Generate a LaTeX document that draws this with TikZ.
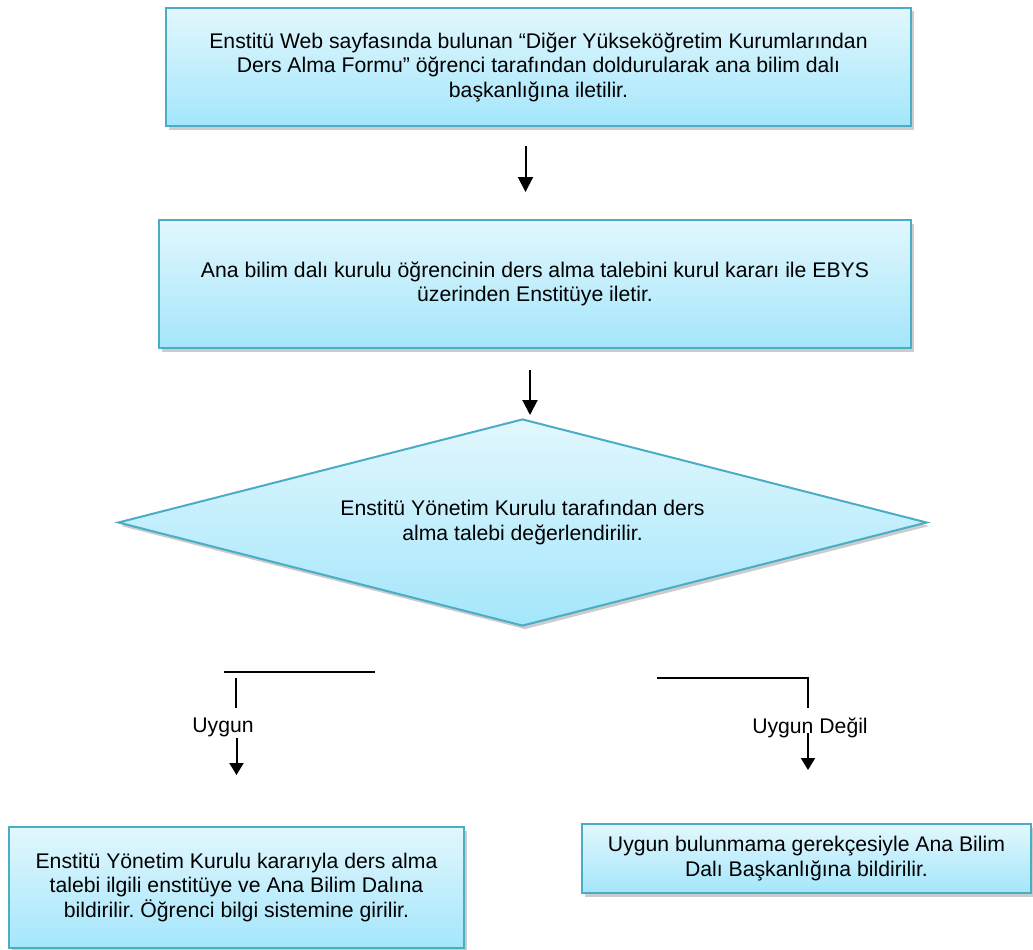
\documentclass[tikz,border=0pt]{standalone}
\usepackage{fontspec}
\setmainfont{Liberation Sans}
\usetikzlibrary{arrows.meta,shadows,shapes.geometric}
\frenchspacing
\definecolor{bord}{HTML}{4BACC6}
\definecolor{ftop}{HTML}{E2F7FD}
\definecolor{fbot}{HTML}{A4E6FB}
\tikzset{
  proc/.style={draw=bord, line width=2pt, top color=ftop, bottom color=fbot,
    align=center, font=\fontsize{21.2}{24.5}\selectfont, inner sep=0pt,
    drop shadow={shadow xshift=2.5pt, shadow yshift=-3.5pt, opacity=0.4}},
  flow/.style={line width=2pt, -{Triangle[width=15pt,length=15pt]}},
  flowsm/.style={line width=2pt, -{Triangle[width=14pt,length=12pt]}},
  plainline/.style={line width=2pt},
  lbl/.style={font=\fontsize{21.2}{24.5}\selectfont, inner sep=0pt}
}
\begin{document}
\begin{tikzpicture}[x=1pt,y=-1pt]
\useasboundingbox (0,0) rectangle (1033,950);

\node[proc, minimum width=745pt, minimum height=118pt] (b1) at (538.5,67)
  {Enstitü Web sayfasında bulunan “Diğer Yükseköğretim Kurumlarından\\
   Ders Alma Formu” öğrenci tarafından doldurularak ana bilim dalı\\
   başkanlığına iletilir.};

\node[proc, minimum width=752pt, minimum height=128pt] (b2) at (535,284)
  {Ana bilim dalı kurulu öğrencinin ders alma talebini kurul kararı ile EBYS\\
   üzerinden Enstitüye iletir.};

\node[proc, diamond, shape aspect=3.9, minimum width=809pt, minimum height=207pt] (d) at (522.5,522.5)
  {Enstitü Yönetim Kurulu tarafından ders\\ alma talebi değerlendirilir.};

\node[proc, minimum width=455pt, minimum height=121pt] (bl) at (236.5,887.5)
  {Enstitü Yönetim Kurulu kararıyla ders alma\\
   talebi ilgili enstitüye ve Ana Bilim Dalına\\
   bildirilir. Öğrenci bilgi sistemine girilir.};

\node[proc, minimum width=449pt, minimum height=69pt] (br) at (806.5,858.5)
  {Uygun bulunmama gerekçesiyle Ana Bilim\\
   Dalı Başkanlığına bildirilir.};

% arrows between boxes
\coordinate (a1s) at (525.5,146);
\coordinate (a1e) at (525.5,192);
\coordinate (a2s) at (530,370);
\coordinate (a2e) at (530,415);
\draw[flow] (a1s) -- (a1e);
\draw[flow] (a2s) -- (a2e);

% left branch
\coordinate (lh1) at (224,672);
\coordinate (lh2) at (375,672);
\coordinate (lv1) at (236,678);
\coordinate (lv2) at (236,708);
\coordinate (la1) at (236.5,738);
\coordinate (la2) at (236.5,775);
\draw[plainline] (lh1) -- (lh2);
\draw[plainline] (lv1) -- (lv2);
\node[lbl] (uy) at (223,727) {Uygun};
\draw[flowsm] (la1) -- (la2);

% right branch
\coordinate (rh1) at (657,678);
\coordinate (rc) at (808,678);
\coordinate (rv2) at (808,708);
\coordinate (ra1) at (808,733);
\coordinate (ra2) at (808,770);
\draw[plainline] (rh1) -- (rc) -- (rv2);
\node[lbl] (ud) at (810,728) {Uygun Değil};
\draw[flowsm] (ra1) -- (ra2);
\end{tikzpicture}
\end{document}
